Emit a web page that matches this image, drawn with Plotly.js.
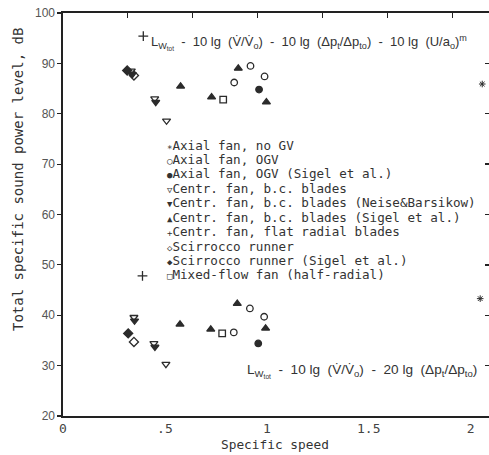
<!DOCTYPE html>
<html>
<head>
<meta charset="utf-8">
<script src="https://cdn.plot.ly/plotly-3.0.1.min.js"></script>
<style>
html,body{margin:0;padding:0;overflow:hidden;background:#fff;}
#chart{width:495px;height:455px;}
</style>
</head>
<body>
<div id="chart"></div>
<script>
// ---- data (specific speed, total specific sound power level dB) ----
const axialNoGV_x = [2.057, 2.047];
const axialNoGV_y = [85.9, 43.3];
const axialOGV_x = [0.84, 0.92, 0.989, 0.838, 0.917, 0.987];
const axialOGV_y = [86.2, 89.5, 87.4, 36.6, 41.35, 39.7];
const axialSigel_x = [0.962, 0.958];
const axialSigel_y = [84.8, 34.4];
const centrBC_x = [0.335, 0.45, 0.508, 0.348, 0.446, 0.505];
const centrBC_y = [88.5, 83.0, 78.6, 39.6, 34.4, 30.3];
const centrNeise_x = [0.34, 0.455, 0.351, 0.451];
const centrNeise_y = [87.8, 82.3, 38.9, 33.7];
const centrSigel_x = [0.577, 0.729, 0.86, 0.998, 0.574, 0.725, 0.855, 0.994];
const centrSigel_y = [85.45, 83.3, 89.0, 82.3, 38.2, 37.2, 42.3, 37.4];
const flatRadial_x = [0.394, 0.39];
const flatRadial_y = [95.4, 47.8];
const scirocco_x = [0.348, 0.348];
const scirocco_y = [87.6, 34.7];
const sciroccoSigel_x = [0.315, 0.32];
const sciroccoSigel_y = [88.6, 36.4];
const mixedFlow_x = [0.786, 0.781];
const mixedFlow_y = [82.8, 36.4];

const seriesNames = [
  "Axial fan, no GV",
  "Axial fan, OGV",
  "Axial fan, OGV (Sigel et al.)",
  "Centr. fan, b.c. blades",
  "Centr. fan, b.c. blades (Neise&Barsikow)",
  "Centr. fan, b.c. blades (Sigel et al.)",
  "Centr. fan, flat radial blades",
  "Scirrocco runner",
  "Scirrocco runner (Sigel et al.)",
  "Mixed-flow fan (half-radial)"
];
const legendGlyphs = ["\u2217","\u25CB","\u25CF","\u25BD","\u25BC","\u25B2","+","\u25C7","\u25C6","\u25A1"];

const xTickVals = [0, 0.5, 1, 1.5, 2];
const xTickText = ["0", ".5", "1", "1.5", "2"];
const yTickVals = [20, 30, 40, 50, 60, 70, 80, 90, 100];

const formulaTop = "L<sub>W<sub>tot</sub></sub>  -  10 lg  (V\u0307/V\u0307<sub>o</sub>)  -  10 lg  (\u0394p<sub>t</sub>/\u0394p<sub>to</sub>)  -  10 lg  (U/a<sub>o</sub>)<sup>m</sup>";
const formulaBottom = "L<sub>W<sub>tot</sub></sub>  -  10 lg  (V\u0307/V\u0307<sub>o</sub>)  -  20 lg  (\u0394p<sub>t</sub>/\u0394p<sub>to</sub>)";

// ---- styling ----
const ink = "#222";
const symbols = ["asterisk-open","circle-open","circle","triangle-down-open","triangle-down","triangle-up","cross-thin-open","diamond-open","diamond","square-open"];
const sizes = [5.5,6.5,6.5,7,7,7,7,7,7,6.5];
const xs = [axialNoGV_x, axialOGV_x, axialSigel_x, centrBC_x, centrNeise_x, centrSigel_x, flatRadial_x, scirocco_x, sciroccoSigel_x, mixedFlow_x];
const ys = [axialNoGV_y, axialOGV_y, axialSigel_y, centrBC_y, centrNeise_y, centrSigel_y, flatRadial_y, scirocco_y, sciroccoSigel_y, mixedFlow_y];

const traces = xs.map((x, i) => ({
  type: "scatter", mode: "markers", name: seriesNames[i],
  x: x, y: ys[i],
  marker: {symbol: symbols[i], size: sizes[i], color: "#2b2b2b", line: {color: "#2b2b2b", width: i === 0 ? 1 : 1.3}},
  showlegend: false, hoverinfo: "skip"
}));
// invisible trace for top (second) axis ticks
traces.push({type:"scatter", mode:"markers", x:[0], y:[20], xaxis:"x2", yaxis:"y2", marker:{opacity:0}, showlegend:false, hoverinfo:"skip"});

const mono = "DejaVu Sans Mono";
const sans = "Liberation Sans";

const annotations = [];
const lineTop = 145, lineStep = 14.44;
seriesNames.forEach((n, i) => {
  const yc = lineTop + i * lineStep;
  annotations.push({
    xref: "paper", yref: "paper", x: (165 - 63) / 428, y: (416 - yc) / 403,
    xanchor: "left", yanchor: "middle", showarrow: false,
    text: '<span style="font-size:9px">' + legendGlyphs[i] + '</span>' + n,
    font: {family: mono, size: 12.6, color: "#333"}
  });
});
annotations.push({
  xref: "paper", yref: "paper", x: (149 - 63) / 428, y: (416 - 42) / 403,
  xanchor: "left", yanchor: "middle", showarrow: false, text: formulaTop,
  font: {family: sans, size: 13, color: "#333"}
});
annotations.push({
  xref: "paper", yref: "paper", x: (245 - 63) / 428, y: (416 - 371) / 403,
  xanchor: "left", yanchor: "middle", showarrow: false, text: formulaBottom,
  font: {family: sans, size: 13.6, color: "#333"}
});
annotations.push({
  xref: "paper", yref: "paper", x: 0, xshift: -45, y: (416 - 180) / 403,
  xanchor: "center", yanchor: "middle", showarrow: false, textangle: -90,
  text: "Total specific sound power level, dB",
  font: {family: mono, size: 14, color: "#333"}
});
annotations.push({
  xref: "paper", yref: "paper", x: (275 - 63) / 428, y: 0, yshift: -28,
  xanchor: "center", yanchor: "middle", showarrow: false,
  text: "Specific speed",
  font: {family: mono, size: 12.8, color: "#333"}
});

const layout = {
  width: 495, height: 455,
  margin: {l: 63, r: 4, t: 13, b: 39},
  paper_bgcolor: "#fff", plot_bgcolor: "#fff",
  showlegend: false,
  xaxis: {
    range: [0, 2.1], showgrid: false, zeroline: false,
    showline: true, linecolor: ink, linewidth: 1.6,
    tickmode: "array", tickvals: xTickVals, ticktext: xTickText,
    ticks: "", ticklabelstandoff: 0, tickfont: {family: mono, size: 13, color: "#444"}
  },
  xaxis2: {
    overlaying: "x", side: "top", range: [0, 2.1 * Math.PI],
    showgrid: false, zeroline: false, showline: true, linecolor: ink, linewidth: 1.6,
    tickmode: "linear", tick0: 0, dtick: 1, ticks: "inside", ticklen: 5, tickwidth: 1.2,
    tickcolor: ink, showticklabels: false
  },
  yaxis: {
    range: [20, 100], showgrid: false, zeroline: false,
    showline: true, linecolor: ink, linewidth: 1.6,
    tickmode: "array", tickvals: yTickVals,
    ticks: "outside", ticklen: 4, tickwidth: 1.2, tickcolor: ink,
    tickfont: {family: sans, size: 12, color: "#555"}
  },
  yaxis2: {
    overlaying: "y", side: "right", range: [20, 100], anchor: "x",
    showgrid: false, zeroline: false, showline: false,
    tickmode: "array", tickvals: yTickVals,
    ticks: "inside", ticklen: 6, tickwidth: 1.3, tickcolor: ink, showticklabels: false
  },
  annotations: annotations
};

Plotly.newPlot("chart", traces, layout, {displayModeBar: false, staticPlot: true});
</script>
</body>
</html>
